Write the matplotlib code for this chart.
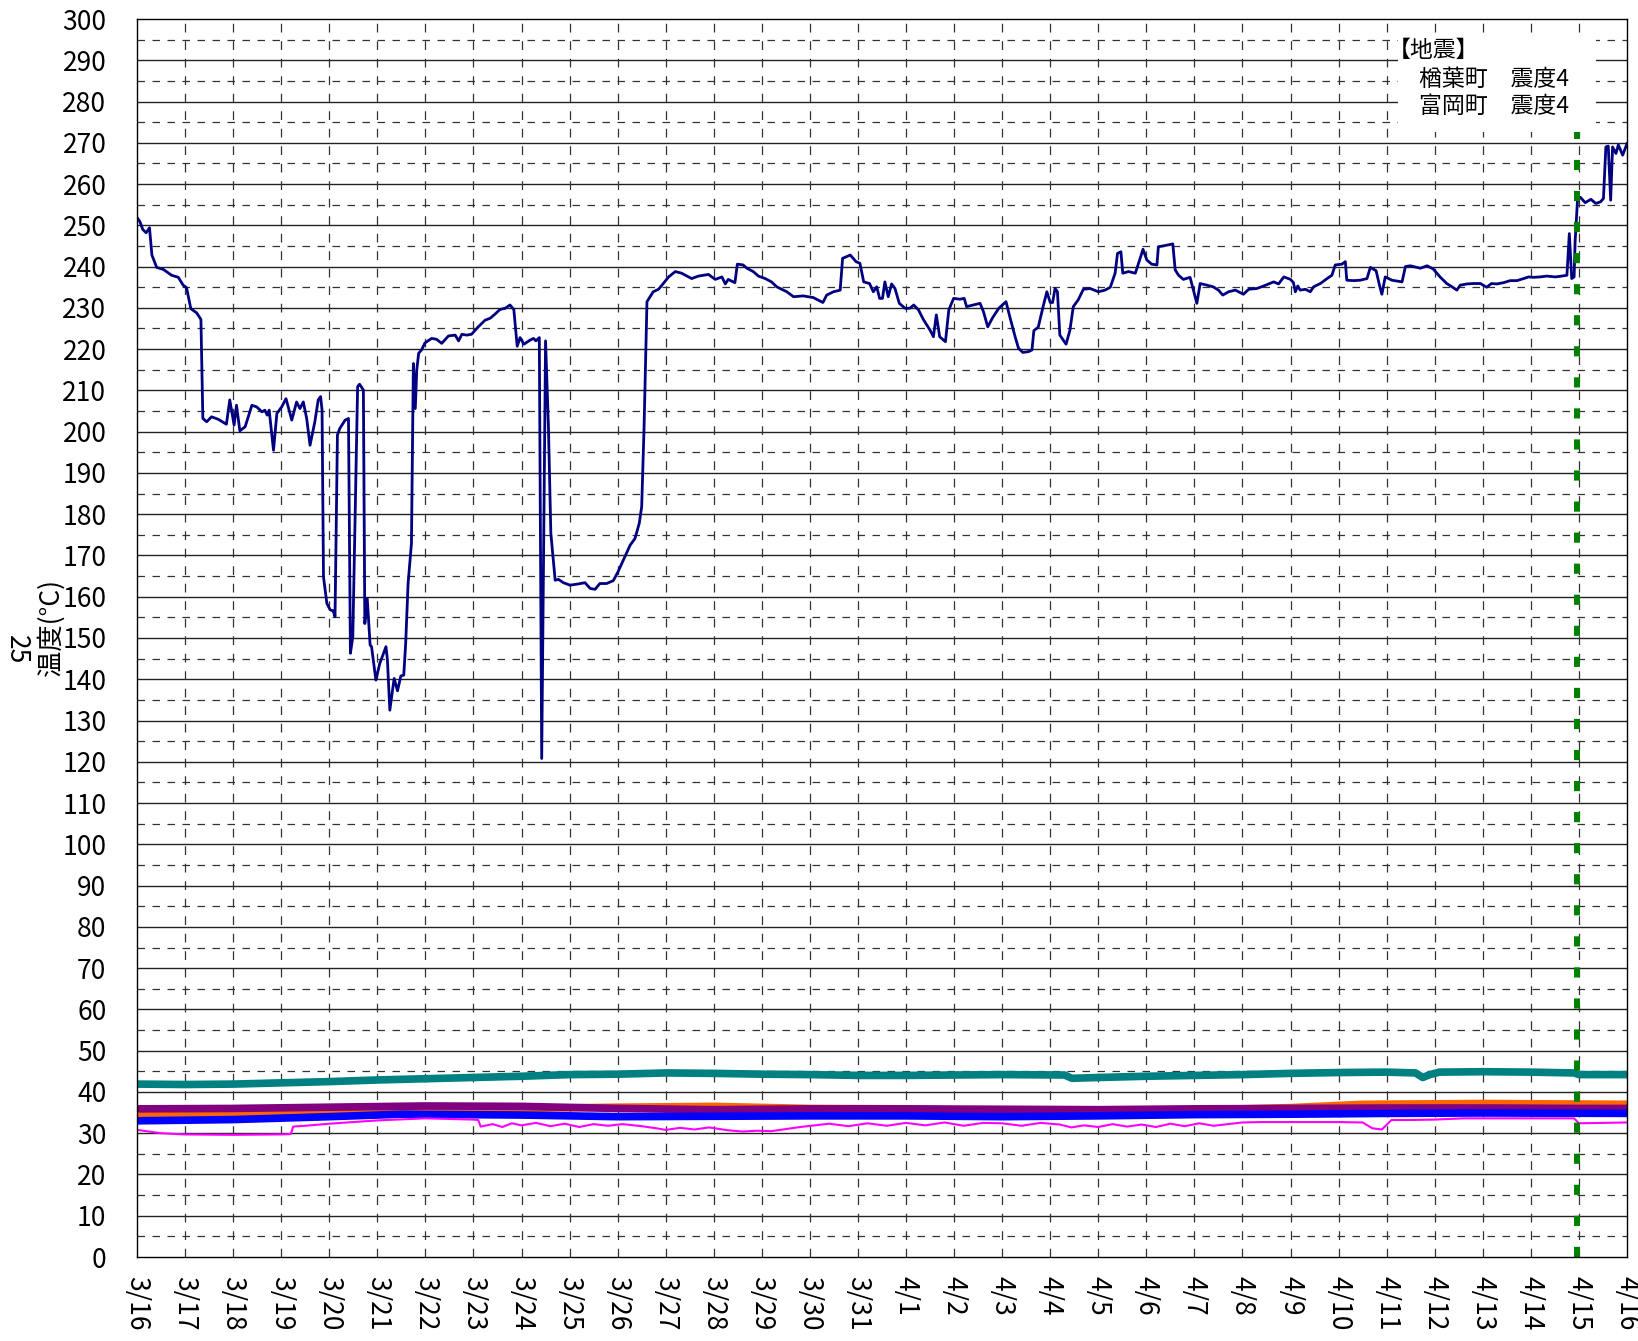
import matplotlib
matplotlib.use("Agg")
import matplotlib.pyplot as plt
from matplotlib.patches import Rectangle

plt.rcParams['font.family'] = ['Noto Sans CJK JP', 'DejaVu Sans']

# ---------------- data ----------------
date_labels = ['3/16', '3/17', '3/18', '3/19', '3/20', '3/21', '3/22', '3/23', '3/24', '3/25',
               '3/26', '3/27', '3/28', '3/29', '3/30', '3/31', '4/1', '4/2', '4/3', '4/4',
               '4/5', '4/6', '4/7', '4/8', '4/9', '4/10', '4/11', '4/12', '4/13', '4/14',
               '4/15', '4/16']

main_days = [0.00, 0.06, 0.12, 0.19, 0.26, 0.31, 0.41, 0.55, 0.72, 0.86, 0.96, 1.03, 1.12, 1.24, 1.33,
             1.37, 1.45, 1.55, 1.69, 1.86, 1.93, 2.02, 2.07, 2.14, 2.25, 2.39, 2.49, 2.60, 2.66, 2.71,
             2.75, 2.84, 2.91, 3.01, 3.10, 3.22, 3.32, 3.39, 3.46, 3.53, 3.60, 3.70, 3.77, 3.82, 3.85,
             3.88, 3.95, 4.02, 4.08, 4.12, 4.17, 4.22, 4.33, 4.40, 4.44, 4.49, 4.59, 4.63, 4.71, 4.74,
             4.79, 4.85, 4.88, 4.97, 5.05, 5.18, 5.21, 5.26, 5.35, 5.42, 5.49, 5.55, 5.59, 5.64, 5.71,
             5.75, 5.79, 5.82, 5.86, 5.92, 5.99, 6.13, 6.23, 6.34, 6.48, 6.62, 6.69, 6.76, 6.86, 6.96,
             7.10, 7.24, 7.35, 7.45, 7.55, 7.66, 7.76, 7.84, 7.91, 7.97, 8.05, 8.18, 8.25, 8.30, 8.37,
             8.42, 8.50, 8.56, 8.61, 8.70, 8.77, 8.87, 9.01, 9.18, 9.32, 9.43, 9.53, 9.63, 9.77, 9.91,
             10.01, 10.15, 10.26, 10.36, 10.45, 10.50, 10.55, 10.61, 10.74, 10.85, 10.95, 11.06, 11.20,
             11.33, 11.54, 11.68, 11.89, 12.03, 12.17, 12.24, 12.30, 12.44, 12.49, 12.61, 12.69, 12.82,
             12.93, 13.07, 13.20, 13.31, 13.52, 13.66, 13.86, 14.07, 14.27, 14.35, 14.49, 14.63, 14.68,
             14.84, 14.96, 15.04, 15.12, 15.24, 15.32, 15.39, 15.45, 15.51, 15.56, 15.63, 15.70, 15.77,
             15.86, 15.98, 16.08, 16.16, 16.26, 16.36, 16.50, 16.57, 16.63, 16.70, 16.82, 16.89, 16.99,
             17.12, 17.21, 17.26, 17.40, 17.54, 17.61, 17.70, 17.80, 17.93, 18.08, 18.16, 18.27, 18.34,
             18.43, 18.55, 18.62, 18.66, 18.75, 18.86, 18.93, 19.00, 19.05, 19.10, 19.15, 19.20, 19.33,
             19.41, 19.48, 19.58, 19.69, 19.83, 20.00, 20.14, 20.25, 20.35, 20.40, 20.47, 20.51, 20.63,
             20.77, 20.86, 20.93, 21.01, 21.11, 21.22, 21.25, 21.43, 21.55, 21.60, 21.67, 21.77, 21.91,
             21.98, 22.05, 22.12, 22.26, 22.39, 22.50, 22.59, 22.71, 22.85, 23.02, 23.13, 23.30, 23.44,
             23.65, 23.75, 23.86, 24.00, 24.06, 24.10, 24.15, 24.20, 24.31, 24.41, 24.48, 24.62, 24.76,
             24.86, 24.93, 25.07, 25.14, 25.17, 25.31, 25.45, 25.59, 25.66, 25.78, 25.85, 25.90, 25.97,
             26.11, 26.32, 26.39, 26.49, 26.70, 26.84, 26.97, 27.11, 27.25, 27.36, 27.46, 27.53, 27.67,
             27.81, 27.95, 28.08, 28.18, 28.29, 28.43, 28.57, 28.71, 28.85, 28.95, 29.05, 29.19, 29.33,
             29.51, 29.64, 29.75, 29.80, 29.85, 29.90, 29.92, 29.97, 30.03, 30.13, 30.25, 30.35, 30.45,
             30.51, 30.56, 30.61, 30.66, 30.70, 30.77, 30.82, 30.91, 31.00]
main_vals = [251.9, 250.9, 249.0, 248.2, 249.4, 242.8, 239.8, 239.3, 237.9, 237.4, 235.5, 234.9, 229.8, 228.8, 227.2,
             203.2, 202.4, 203.6, 203.0, 201.8, 207.7, 201.6, 206.4, 200.2, 201.2, 206.4, 206.0, 204.8, 205.2, 204.0,
             205.2, 195.5, 204.4, 206.0, 208.0, 202.8, 207.2, 205.6, 207.2, 203.2, 196.7, 202.4, 207.7, 208.5, 205.2,
             164.8, 158.4, 156.8, 156.6, 155.2, 199.2, 200.8, 202.8, 203.2, 146.3, 150.3, 210.9, 211.5, 210.1, 153.5,
             159.6, 148.3, 147.9, 139.8, 143.8, 147.9, 144.7, 132.5, 140.2, 137.2, 140.8, 141.0, 148.7, 163.2, 172.9,
             216.5, 205.6, 214.9, 219.0, 219.8, 221.5, 222.6, 222.4, 221.4, 223.2, 223.4, 222.0, 223.6, 223.4, 223.6,
             225.4, 227.0, 227.5, 228.5, 229.6, 229.9, 230.7, 229.6, 220.7, 222.8, 221.2, 222.2, 222.6, 222.0, 222.8,
             120.8, 222.0, 201.2, 175.4, 164.0, 164.2, 163.4, 162.8, 163.1, 163.4, 162.0, 161.8, 163.2, 163.2, 163.9,
             166.1, 169.7, 172.5, 174.1, 177.8, 181.8, 201.2, 231.5, 233.9, 234.5, 235.9, 237.5, 238.8,
             238.4, 237.1, 237.7, 238.1, 236.9, 237.5, 235.8, 236.9, 236.1, 240.6, 240.4, 239.6, 238.8,
             237.7, 237.1, 236.3, 235.1, 233.9, 232.7, 232.9, 232.5, 231.3, 233.1, 233.9, 234.3, 242.0,
             242.8, 241.2, 240.8, 236.3, 235.9, 233.9, 235.1, 232.3, 232.3, 236.3, 232.7, 235.8, 234.7,
             231.1, 229.9, 229.9, 230.7, 229.5, 227.2, 224.6, 223.0, 228.3, 223.0, 221.8, 229.5, 232.3,
             232.1, 232.3, 230.3, 230.7, 231.1, 229.1, 225.4, 227.6, 229.9, 231.5, 227.8, 223.0, 220.2,
             219.2, 219.4, 219.8, 224.5, 225.3, 230.7, 233.9, 231.3, 231.3, 234.7, 233.9, 223.4, 221.2,
             224.6, 230.3, 231.9, 234.5, 234.7, 233.9, 234.3, 235.0, 238.4, 243.2, 243.6, 238.4, 238.8,
             238.4, 241.6, 244.2, 241.6, 240.6, 240.4, 244.8, 245.2, 245.5, 239.2, 237.9, 236.9, 237.4,
             234.3, 231.1, 235.9, 235.5, 235.1, 234.3, 233.1, 233.9, 234.3, 233.3, 234.5, 234.7, 235.3,
             236.3, 235.8, 237.5, 236.9, 236.1, 233.9, 235.3, 234.3, 234.5, 233.9, 235.1, 235.9, 237.1,
             237.9, 240.4, 240.6, 241.2, 236.7, 236.6, 236.7, 237.1, 239.8, 239.0, 235.5, 233.3, 237.5,
             236.7, 236.3, 240.0, 240.2, 239.6, 240.2, 239.4, 237.5, 235.9, 235.1, 234.3, 235.5, 235.8,
             235.9, 235.9, 235.0, 235.9, 235.8, 236.1, 236.6, 236.6, 237.1, 237.5, 237.4, 237.5, 237.7,
             237.5, 237.7, 237.9, 248.0, 237.1, 237.5, 246.0, 256.1, 256.8, 255.5, 256.3, 255.3, 255.7,
             256.5, 269.0, 269.2, 256.1, 269.0, 267.4, 269.5, 267.0, 269.8]

teal_days = [0, 1, 2, 3, 4, 5, 6, 7, 8, 9, 10, 11, 12, 13, 14, 15, 16, 17, 18, 19.3, 19.45, 20, 21, 22,
             23, 24, 25, 26, 26.6, 26.75, 26.9, 27.1, 28, 29, 29.9, 30.0, 31]
teal_vals = [41.9, 41.8, 41.9, 42.2, 42.5, 42.9, 43.2, 43.5, 43.8, 44.2, 44.3, 44.6, 44.5, 44.3, 44.2, 44.0,
             44.0, 44.1, 44.2, 44.1, 43.3, 43.5, 43.8, 44.0, 44.2, 44.5, 44.7, 44.8, 44.6, 43.5, 44.2, 44.8,
             44.9, 44.8, 44.6, 44.2, 44.2]

orange_days = [0, 3, 5, 8, 10, 12, 14, 16, 18, 20, 22, 24, 25.5, 28, 31]
orange_vals = [34.6, 34.8, 35.5, 36.0, 36.3, 36.5, 36.0, 35.9, 35.3, 35.0, 35.6, 36.2, 37.0, 37.2, 37.0]

purple_days = [0, 2, 4, 6, 8, 10, 12, 14, 16, 18, 20, 22, 24, 26, 28, 30, 31]
purple_vals = [35.9, 36.0, 36.3, 36.6, 36.5, 36.0, 35.7, 35.9, 35.9, 35.8, 35.7, 35.9, 36.0, 36.1, 36.1, 36.0, 36.0]

blue_days = [0, 2, 4, 5.5, 8, 10, 12, 14, 16, 18, 20, 22, 24, 26, 28, 31]
blue_vals = [33.0, 33.3, 34.0, 34.6, 34.4, 34.0, 34.1, 34.2, 34.2, 34.0, 34.2, 34.5, 34.6, 34.8, 34.9, 34.8]

magenta_days = [0, 0.5, 1, 2, 3, 3.2, 3.25, 3.5, 4, 5, 6, 7, 7.1, 7.15, 7.4, 7.6, 7.8, 8.0, 8.3, 8.6,
                8.9, 9.2, 9.5, 9.8, 10.1, 10.5, 10.8, 11.0, 11.3, 11.6, 11.9, 12.3, 12.6, 12.9, 13.2,
                13.5, 13.8, 14.1, 14.4, 14.8, 15.2, 15.6, 16.0, 16.4, 16.8, 17.2, 17.6, 18.0, 18.4,
                18.8, 19.2, 19.44, 19.7, 20.0, 20.3, 20.6, 20.9, 21.2, 21.5, 21.8, 22.1, 22.4, 22.7,
                23.0, 23.4, 23.9, 24.5, 25.0, 25.5, 25.7, 25.9, 26.1, 26.5, 27.0, 27.6, 28.5, 29.9,
                30.0, 31]
magenta_vals = [30.8, 30.0, 29.7, 29.6, 29.7, 29.8, 31.6, 31.8, 32.3, 33.1, 33.6, 33.3, 33.2, 31.6, 32.2,
                31.5, 32.4, 31.9, 32.5, 31.7, 32.3, 31.5, 32.2, 31.8, 32.2, 31.7, 31.2, 30.8, 31.3,
                30.9, 31.4, 30.7, 30.4, 30.6, 30.5, 31.0, 31.5, 31.9, 32.3, 31.7, 32.4, 31.8, 32.5,
                31.9, 32.6, 31.8, 32.5, 32.4, 31.8, 32.5, 32.1, 31.4, 31.9, 31.5, 32.2, 31.6, 32.1,
                31.5, 32.3, 31.7, 32.4, 31.8, 32.2, 32.6, 32.7, 32.7, 32.7, 32.7, 32.6, 31.2, 30.9,
                33.2, 33.2, 33.3, 33.6, 33.6, 33.6, 32.4, 32.6]

quake_day = 29.95
quake_title = "【地震】"
quake_lines = ["楢葉町　震度4", "富岡町　震度4"]

# ---------------- figure ----------------
fig = plt.figure(figsize=(16.38, 13.41), dpi=100)
ax = fig.add_axes([137 / 1638, 84 / 1341, 1490 / 1638, 1238 / 1341])

ax.set_xlim(0, 31)
ax.set_ylim(0, 300)

# grid
for v in range(5, 300, 10):
    ax.axhline(v, color='#333333', lw=0.9, ls=(0, (6, 6)), zorder=1)
for v in range(10, 300, 10):
    ax.axhline(v, color='#222222', lw=1.0, zorder=1)
for d in range(1, 31):
    ax.axvline(d, color='#333333', lw=0.9, ls=(0, (7, 7)), zorder=1)

ax.plot(orange_days, orange_vals, color='#FF6600', lw=5.5, zorder=3, solid_capstyle='round')
ax.plot(purple_days, purple_vals, color='#800080', lw=5.5, zorder=4, solid_capstyle='round')
ax.plot(blue_days, blue_vals, color='#0000FF', lw=5.5, zorder=5, solid_capstyle='round')
ax.plot(magenta_days, magenta_vals, color='#FF00FF', lw=1.5, zorder=6)
ax.plot(teal_days, teal_vals, color='#008080', lw=5.5, zorder=6, solid_capstyle='round')
ax.plot(main_days, main_vals, color='#000080', lw=2.0, zorder=7)

ax.axvline(quake_day, color='#008000', lw=4.3, ls=(0, (1.7, 3.5)), zorder=8)

# annotation box
ax.add_patch(Rectangle((0.846, 0.9087), 0.133, 0.0783, transform=ax.transAxes,
                       facecolor='white', edgecolor='none', zorder=9))
ax.text(0.8395, 0.9745, quake_title, transform=ax.transAxes, fontsize=16.5, va='center',
        ha='left', zorder=10)
for line, yy in zip(quake_lines, [0.9515, 0.9297]):
    ax.text(0.8604, yy, line, transform=ax.transAxes, fontsize=16.5, va='center',
            ha='left', zorder=10)

ax.set_yticks(range(0, 301, 10))
ax.set_xticks(range(0, 32))
ax.set_xticklabels(date_labels, rotation=270)
ax.tick_params(axis='y', length=0, pad=22, labelsize=19)
ax.tick_params(axis='x', length=0, pad=14, labelsize=19)

for s in ax.spines.values():
    s.set_color('black')
    s.set_linewidth(1.0)
    s.set_zorder(11)

fig.text(51 / 1638, 1 - 628 / 1341, '温度(°C)', rotation=90, fontsize=19, ha='center', va='center')
fig.text(16 / 1638, 1 - 650 / 1341, '25', rotation=270, fontsize=19, ha='center', va='center')

fig.savefig('out.png', dpi=100)
